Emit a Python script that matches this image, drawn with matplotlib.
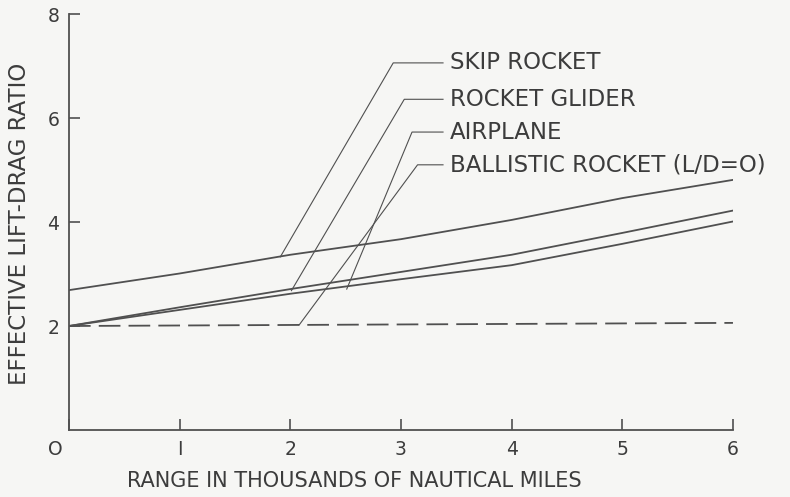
import matplotlib.pyplot as plt
from matplotlib.transforms import ScaledTranslation

# Data
alcance = [0, 1, 2, 3, 4, 5, 6]
skip_rocket = [2.69, 3.01, 3.37, 3.67, 4.04, 4.46, 4.81]
rocket_glider = [2.0, 2.36, 2.71, 3.04, 3.37, 3.79, 4.22]
airplane = [2.0, 2.31, 2.62, 2.90, 3.17, 3.58, 4.01]
ballistic = [2.0, 2.01, 2.02, 2.03, 2.04, 2.05, 2.06]

rotulos = ["SKIP ROCKET", "ROCKET GLIDER", "AIRPLANE", "BALLISTIC ROCKET (L/D=O)"]
# leader end points on the curves
pontas_x = [1.91, 2.01, 2.51, 2.08]
pontas_y = [3.33, 2.68, 2.71, 2.02]
# label positions
canto_x = [2.93, 3.03, 3.10, 3.15]
canto_y = [7.06, 6.36, 5.73, 5.10]

cor = '#505050'
cor_texto = '#3c3c3c'
fundo = '#f6f6f4'

fig = plt.figure(figsize=(7.9, 4.97), dpi=100, facecolor=fundo)
ax = fig.add_axes([0.0873, 0.1348, 0.8405, 0.837], facecolor=fundo)

ax.plot(alcance, skip_rocket, color=cor, linewidth=1.3)
ax.plot(alcance, rocket_glider, color=cor, linewidth=1.3)
ax.plot(alcance, airplane, color=cor, linewidth=1.3)
ax.plot(alcance, ballistic, color=cor, linewidth=1.3, linestyle=(0, (12, 4.5)))

# leaders + labels
for i in range(len(rotulos)):
    ax.plot([pontas_x[i], canto_x[i], 3.38], [pontas_y[i], canto_y[i], canto_y[i]],
            color=cor, linewidth=0.8)
    ax.text(3.44, canto_y[i], rotulos[i], fontsize=16.5, color=cor_texto,
            va='center', ha='left')

ax.set_xlim(0, 6)
ax.set_ylim(0, 8)
ax.set_xticks([0, 1, 2, 3, 4, 5, 6])
ax.set_yticks([2, 4, 6, 8])
ax.set_xticklabels(['O', 'I', '2', '3', '4', '5', '6'])
ax.spines['top'].set_visible(False)
ax.spines['right'].set_visible(False)
ax.spines['left'].set_color(cor)
ax.spines['bottom'].set_color(cor)
ax.spines['left'].set_linewidth(1.3)
ax.spines['bottom'].set_linewidth(1.3)
ax.tick_params(direction='in', length=8, width=1.2, color=cor,
               labelsize=13.5, labelcolor=cor_texto, pad=7)

# o "O" da origem fica um pouco a esquerda
rot0 = ax.get_xticklabels()[0]
rot0.set_transform(rot0.get_transform() + ScaledTranslation(-0.14, 0, fig.dpi_scale_trans))

ax.set_xlabel("RANGE IN THOUSANDS OF NAUTICAL MILES", fontsize=15, color=cor_texto)
ax.xaxis.label.set_va('center')
ax.xaxis.set_label_coords(0.429, -0.1226)
ax.set_ylabel("EFFECTIVE LIFT-DRAG RATIO", fontsize=16.5, color=cor_texto)
ax.yaxis.label.set_va('center')
ax.yaxis.set_label_coords(-0.0738, 0.496)

plt.savefig("out.png", dpi=100, facecolor=fundo)
